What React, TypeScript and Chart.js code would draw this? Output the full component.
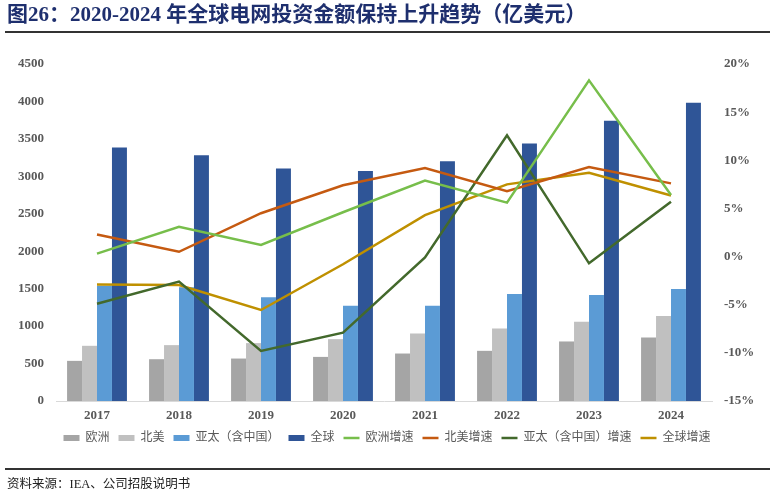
import React, { useEffect, useRef } from "react";
import { Chart, registerables } from "chart.js";

Chart.register(...registerables);

const categories = ["2017", "2018", "2019", "2020", "2021", "2022", "2023", "2024"];
const europe = [536, 558, 567, 589, 634, 670, 795, 848];
const northAmerica = [737, 746, 773, 826, 902, 969, 1058, 1134];
const asiaPacific = [1540, 1518, 1384, 1272, 1272, 1429, 1415, 1496];
const globalTotal = [3384, 3281, 3103, 3071, 3201, 3438, 3741, 3982];
const europeGrowth = [0.3, 3.1, 1.2, 4.6, 7.9, 5.6, 18.3, 6.4];
const northAmericaGrowth = [2.3, 0.5, 4.5, 7.4, 9.2, 6.8, 9.3, 7.6];
const asiaPacificGrowth = [-4.9, -2.6, -9.8, -7.9, -0.1, 12.6, -0.7, 5.7];
const globalGrowth = [-2.9, -2.95, -5.55, -0.8, 4.3, 7.5, 8.7, 6.35];

const FONT = '"Liberation Serif", "Noto Sans CJK SC", serif';

export default function App() {
  const canvasRef = useRef<HTMLCanvasElement | null>(null);

  useEffect(() => {
    const canvas = canvasRef.current;
    if (!canvas) return;
    const barDs = (label: string, data: number[], color: string) => ({
      type: "bar" as const,
      label,
      data,
      backgroundColor: color,
      borderWidth: 0,
      yAxisID: "y",
      order: 1,
      categoryPercentage: 0.73,
      barPercentage: 1.0,
    });
    const lineDs = (label: string, data: number[], color: string) => ({
      type: "line" as const,
      label,
      data,
      borderColor: color,
      backgroundColor: color,
      borderWidth: 2.5,
      pointRadius: 0,
      pointHoverRadius: 0,
      tension: 0,
      yAxisID: "y1",
      order: 0,
    });
    const chart = new Chart(canvas, {
      data: {
        labels: categories,
        datasets: [
          barDs("欧洲", europe, "#A5A5A5"),
          barDs("北美", northAmerica, "#C0C0C0"),
          barDs("亚太（含中国）", asiaPacific, "#5B9BD5"),
          barDs("全球", globalTotal, "#2F5597"),
          lineDs("欧洲增速", europeGrowth, "#77BE4B"),
          lineDs("北美增速", northAmericaGrowth, "#C55A11"),
          lineDs("亚太（含中国）增速", asiaPacificGrowth, "#43692C"),
          lineDs("全球增速", globalGrowth, "#BF9000"),
        ] as any,
      },
      options: {
        animation: false,
        responsive: false,
        maintainAspectRatio: false,
        layout: { padding: { top: 64, left: 0, right: 0, bottom: 45 } },
        plugins: {
          tooltip: { enabled: false },
          legend: {
            position: "bottom",
            labels: {
              usePointStyle: true,
              pointStyleWidth: 16,
              boxHeight: 6,
              padding: 9,
              color: "#595959",
              font: { family: FONT, size: 12 },
              generateLabels: (ch: any) => {
                const items = Chart.defaults.plugins.legend.labels.generateLabels(ch);
                items.forEach((it: any) => {
                  const ds = ch.data.datasets[it.datasetIndex];
                  it.pointStyle = ds.type === "line" ? "line" : "rect";
                  it.lineWidth = ds.type === "line" ? 2.5 : 0;
                  it.strokeStyle = ds.type === "line" ? ds.borderColor : ds.backgroundColor;
                  it.fillStyle = ds.type === "line" ? ds.borderColor : ds.backgroundColor;
                });
                return items.sort((a: any, b: any) => a.datasetIndex - b.datasetIndex);
              },
            },
          },
        },
        scales: {
          x: {
            offset: true,
            grid: { display: false, drawTicks: false },
            border: { display: true, color: "#D9D9D9", width: 1 },
            ticks: { color: "#595959", padding: 7, font: { family: FONT, size: 13, weight: "bold" } },
            afterFit: (s: any) => { s.height = 22; },
          },
          y: {
            position: "left",
            min: 0,
            max: 4500,
            grid: { display: false, drawTicks: false },
            border: { display: false },
            ticks: {
              stepSize: 500,
              color: "#595959",
              padding: 12,
              font: { family: FONT, size: 13, weight: "bold" },
              callback: (v: any) => String(v),
            },
            afterFit: (s: any) => { s.width = 56; },
          },
          y1: {
            position: "right",
            min: -15,
            max: 20,
            grid: { display: false, drawTicks: false },
            border: { display: false },
            ticks: {
              stepSize: 5,
              color: "#595959",
              padding: 12,
              font: { family: FONT, size: 13, weight: "bold" },
              callback: (v: any) => `${v}%`,
            },
            afterFit: (s: any) => { s.width = 62; },
          },
        },
      } as any,
    });
    return () => chart.destroy();
  }, []);

  return (
    <div style={{ position: "fixed", left: 0, top: 0, width: 774, height: 499, background: "#fff", overflow: "hidden" }}>
      <canvas ref={canvasRef} width={774} height={499} style={{ position: "absolute", left: 0, top: 0, width: 774, height: 499 }} />
      <div
        style={{
          position: "absolute",
          left: 7,
          top: 2,
          fontFamily: FONT,
          fontWeight: "bold",
          fontSize: 21,
          lineHeight: "25px",
          color: "#1E2F6E",
          whiteSpace: "nowrap",
        }}
      >
        图26：2020-2024 年全球电网投资金额保持上升趋势（亿美元）
      </div>
      <div style={{ position: "absolute", left: 5, top: 31, width: 765, height: 1.5, background: "#333" }} />
      <div style={{ position: "absolute", left: 5, top: 468, width: 765, height: 1.5, background: "#333" }} />
      <div
        style={{
          position: "absolute",
          left: 7,
          top: 475,
          fontFamily: FONT,
          fontSize: 12.5,
          lineHeight: "18px",
          color: "#222",
          whiteSpace: "nowrap",
        }}
      >
        资料来源：IEA、公司招股说明书
      </div>
    </div>
  );
}
